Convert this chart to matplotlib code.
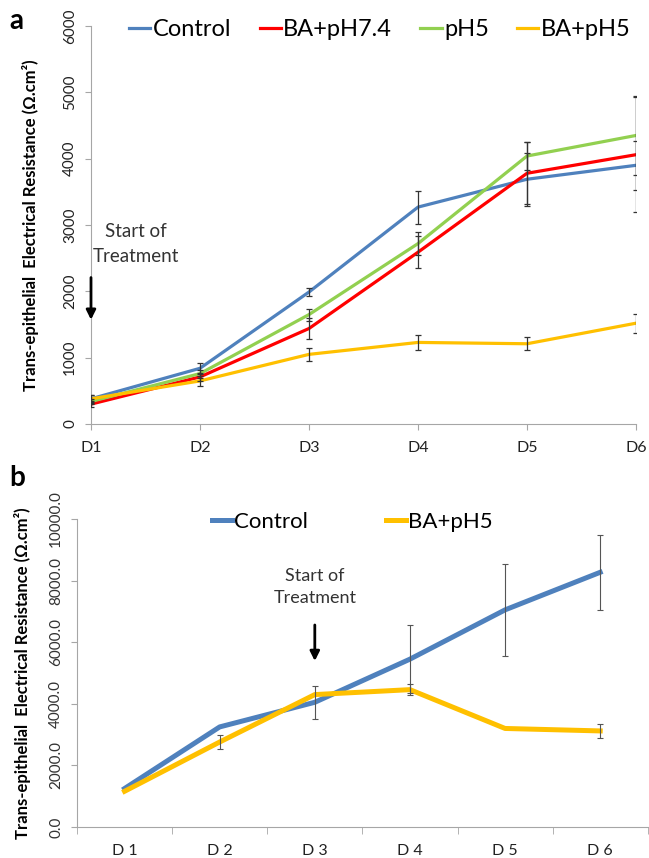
import numpy as np
import matplotlib
matplotlib.use("Agg")
import matplotlib.pyplot as plt

plt.rcParams["font.family"] = ["Lato", "DejaVu Sans"]

# panel a: TEER over six days, four conditions
days_a = ["D1", "D2", "D3", "D4", "D5", "D6"]
ctrl_a = [380, 840, 1990, 3270, 3690, 3900]
ctrl_a_err = [50, 80, 60, 250, 400, 370]
ba74_a = [300, 710, 1440, 2590, 3780, 4060]
ba74_a_err = [50, 60, 160, 240, 470, 870]
ph5_a = [340, 760, 1650, 2720, 4040, 4350]
ph5_a_err = [40, 60, 90, 170, 210, 600]
baph5_a = [380, 650, 1050, 1230, 1210, 1520]
baph5_a_err = [60, 70, 100, 115, 95, 145]
yticks_a = [0, 1000, 2000, 3000, 4000, 5000, 6000]

# panel b: control vs BA+pH5
days_b = ["D 1", "D 2", "D 3", "D 4", "D 5", "D 6"]
ctrl_b = [1250, 3250, 4050, 5450, 7050, 8270]
ctrl_b_err = [np.nan, np.nan, 530, 1100, 1500, 1220]
baph5_b = [1160, 2760, 4300, 4460, 3200, 3120]
baph5_b_err = [np.nan, 230, np.nan, 170, np.nan, 235]
yticks_b = [0, 2000, 4000, 6000, 8000, 10000]

BLUE, RED, GREEN, YELLOW = "#4F81BD", "#FF0000", "#92D050", "#FFC000"
AXC = "#A6A6A6"
YLABEL = "Trans-epithelial  Electrical Resistance (\u03a9.cm\u00b2)"

fig = plt.figure(figsize=(6.49, 8.58), dpi=100)

# ---- panel a ----
ax = fig.add_axes([0.1402, 0.5058, 0.8398, 0.4639])
xa = np.arange(len(days_a))
for vals, err, col, lab in [(ctrl_a, ctrl_a_err, BLUE, "Control"),
                            (ba74_a, ba74_a_err, RED, "BA+pH7.4"),
                            (ph5_a, ph5_a_err, GREEN, "pH5"),
                            (baph5_a, baph5_a_err, YELLOW, "BA+pH5")]:
    ax.plot(xa, vals, color=col, lw=2.3, label=lab, zorder=3)
    ax.errorbar(xa, vals, yerr=err, fmt="none", ecolor="#333333",
                elinewidth=0.9, capsize=2.2, capthick=0.9, zorder=4)
ax.set_xlim(0, 5)
ax.set_ylim(0, 6000)
ax.set_xticks(xa)
ax.set_xticklabels(days_a, fontsize=11.5, color="#222222")
ax.set_yticks(yticks_a)
ax.set_yticklabels([str(v) for v in yticks_a], rotation=90, va="center",
                   fontsize=11, color="#333333")
for s in ["top", "right"]:
    ax.spines[s].set_visible(False)
for s in ["left", "bottom"]:
    ax.spines[s].set_color(AXC)
ax.tick_params(axis="both", colors=AXC, length=4, labelcolor="#222222")
ax.tick_params(axis="x", pad=8)
ax.tick_params(axis="y", pad=6)
ax.set_ylabel(YLABEL, fontsize=12, fontweight="bold", labelpad=17)
ax.legend(loc="center", bbox_to_anchor=(0.53, 0.99), ncol=4, frameon=False,
          fontsize=17, handlelength=0.9, handletextpad=0.1, columnspacing=1.2)
ax.text(0.13, 2900, "Start of", fontsize=13.5, color="#333333", va="center")
ax.text(0.02, 2520, "Treatment", fontsize=13.5, color="#333333", va="center")
ax.annotate("", xy=(0, 1530), xytext=(0, 2250),
            arrowprops=dict(arrowstyle="-|>", color="black", lw=2,
                            mutation_scale=14), annotation_clip=False)
fig.text(0.015, 0.975, "a", fontsize=20, fontweight="bold", va="center")

# ---- panel b ----
bx = fig.add_axes([0.1186, 0.0361, 0.8795, 0.359])
xb = np.arange(len(days_b))
for vals, err, col, lab in [(ctrl_b, ctrl_b_err, BLUE, "Control"),
                            (baph5_b, baph5_b_err, YELLOW, "BA+pH5")]:
    bx.plot(xb, vals, color=col, lw=3.6, label=lab, zorder=3)
    bx.errorbar(xb, vals, yerr=err, fmt="none", ecolor="#555555",
                elinewidth=0.8, capsize=2.2, capthick=0.8, zorder=4)
bx.set_xlim(-0.5, 5.5)
bx.set_ylim(0, 10000)
bx.set_xticks(xb)
bx.set_xticklabels(days_b, fontsize=11.5, color="#222222")
bx.set_xticks(np.arange(-0.5, 6.0, 1.0), minor=True)
bx.tick_params(axis="x", which="major", length=0, pad=12)
bx.tick_params(axis="x", which="minor", length=5, colors=AXC)
bx.set_yticks(yticks_b)
bx.set_yticklabels([f"{v:.1f}" for v in yticks_b], rotation=90, va="center",
                   fontsize=11, color="#333333")
bx.tick_params(axis="y", colors=AXC, length=4, labelcolor="#333333", pad=6)
for s in ["top", "right"]:
    bx.spines[s].set_visible(False)
for s in ["left", "bottom"]:
    bx.spines[s].set_color(AXC)
bx.set_ylabel(YLABEL, fontsize=12, fontweight="bold", labelpad=13)
bx.legend(loc="center", bbox_to_anchor=(0.482, 0.99), ncol=2, frameon=False,
          fontsize=16, handlelength=0.9, handletextpad=0.1, columnspacing=3.5)
bx.text(2.0, 7800, "Start of\nTreatment", fontsize=13, color="#333333",
        ha="center", va="center", linespacing=1.5)
bx.annotate("", xy=(2.0, 5300), xytext=(2.0, 6650),
            arrowprops=dict(arrowstyle="-|>", color="black", lw=2,
                            mutation_scale=14))
fig.text(0.015, 0.443, "b", fontsize=20, fontweight="bold", va="center")

fig.savefig("out.png", dpi=100)
